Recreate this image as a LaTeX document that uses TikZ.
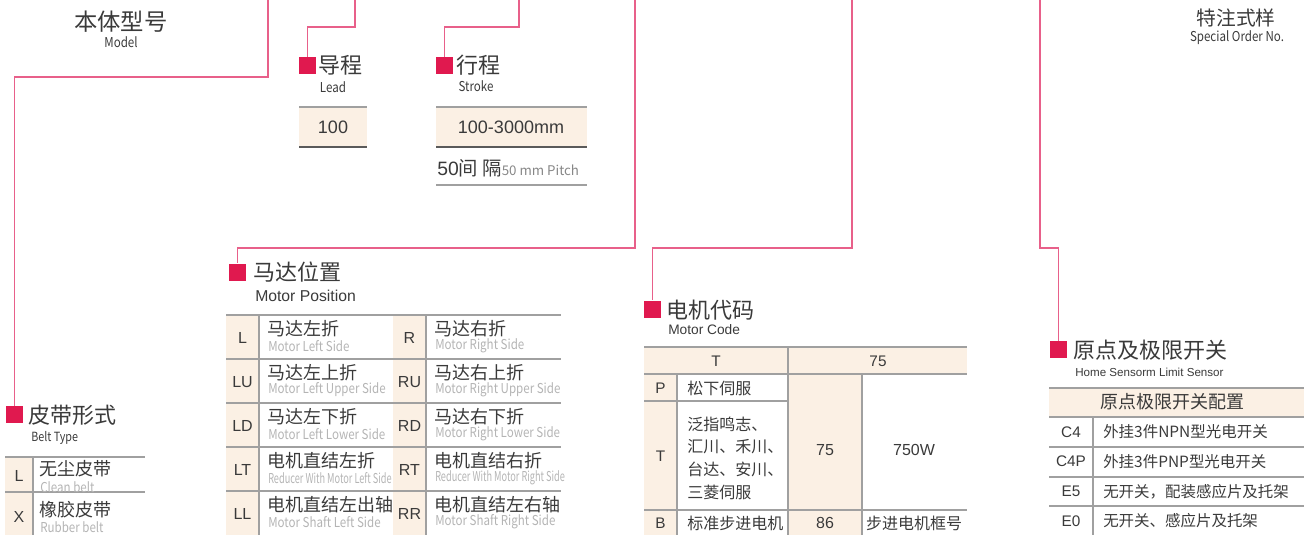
\documentclass[tikz,border=0pt]{standalone}
\usepackage{fontspec}
\setmainfont{Liberation Sans}
\newfontfamily\cjk{Noto Sans CJK SC}
\newfontfamily\cnd[FakeStretch=0.85]{Noto Sans CJK SC}
\newfontfamily\cndx[FakeStretch=0.675]{Noto Sans CJK SC}
\definecolor{linkc}{HTML}{E8608A}
\definecolor{markc}{HTML}{E0194F}
\definecolor{beige}{HTML}{FBF0E4}
\definecolor{gridc}{HTML}{A0A0A0}
\definecolor{darkl}{HTML}{5A5A5A}
\definecolor{textc}{HTML}{3A3A3A}
\definecolor{subc}{HTML}{B4B4B4}
\newcommand\fs[1]{\fontsize{#1}{#1}\selectfont}
\begin{document}
\begin{tikzpicture}[x=0.75pt,y=-0.75pt,
  conn/.style={draw=linkc,line width=1.1pt},
  marker/.style={fill=markc,draw=none,minimum size=12.75pt,inner sep=0pt},
  gridl/.style={draw=gridc,line width=0.8pt},
  darkline/.style={draw=darkl,line width=0.9pt},
  bfill/.style={fill=beige},
  txt/.style={inner sep=0pt,text=textc},
  ttl/.style={txt,anchor=west,font=\cjk\fs{16.5}},
  ttlsub/.style={txt,font=\cnd\fs{10.2}},
  cell/.style={txt,anchor=west,font=\cjk\fs{13.5}},
  sub/.style={inner sep=0pt,anchor=west,text=subc,font=\cnd\fs{10.2}},
  subx/.style={sub,font=\cndx\fs{10.2}},
  code/.style={txt,font=\fs{12}},
  mc/.style={txt,font=\cjk\fs{12}},
  hc/.style={txt,font=\cjk\fs{11.6}}]
\useasboundingbox (0,0) rectangle (1304,535);

% ---------- fills ----------
\fill[bfill] (299,107) rectangle (367,147);
\fill[bfill] (436,107) rectangle (587,147);
\fill[bfill] (5,457) rectangle (33,535);
\fill[bfill] (226,315) rectangle (259,535);
\fill[bfill] (393,315) rectangle (426,535);
\fill[bfill] (644,347) rectangle (967,374);
\fill[bfill] (644,374) rectangle (677,535);
\fill[bfill] (788,374) rectangle (862,535);
\fill[bfill] (1049,388) rectangle (1304,417);

% ---------- table lines ----------
\draw[gridl] (299,107) -- (367,107);
\draw[darkline] (299,147) -- (367,147);
\draw[gridl] (436,107) -- (587,107);
\draw[darkline] (436,147) -- (587,147);
\draw[gridl] (436,185) -- (587,185);
% belt
\draw[gridl] (5,457) -- (145,457);
\draw[gridl] (5,492) -- (145,492);
\draw[gridl] (33,457) -- (33,535);
% motor position
\foreach \y in {315,359,403,447,491} \draw[gridl] (226,\y) -- (561,\y);
\draw[gridl] (259,315) -- (259,535);
\draw[gridl] (426,315) -- (426,535);
% motor code
\draw[gridl] (644,347) -- (967,347);
\draw[gridl] (644,374) -- (967,374);
\draw[gridl] (644,401) -- (788,401);
\draw[gridl] (644,510) -- (967,510);
\draw[gridl] (788,347) -- (788,535);
\draw[gridl] (677,374) -- (677,535);
\draw[gridl] (862,374) -- (862,535);
% home sensor
\foreach \y in {388,417,447,477,506} \draw[gridl] (1049,\y) -- (1304,\y);
\draw[gridl] (1093,417) -- (1093,535);

% ---------- markers ----------
\node[marker] (mLead) at (307.5,65.5) {};
\node[marker] (mStroke) at (444.5,65.5) {};
\node[marker] (mBelt) at (14.5,414.5) {};
\node[marker] (mPos) at (237.5,272) {};
\node[marker] (mCode) at (652.5,309) {};
\node[marker] (mHome) at (1058.5,349.5) {};

% ---------- connectors ----------
\coordinate (tModel) at (268,0);
\coordinate (tLead) at (355,0);
\coordinate (tStroke) at (519,0);
\coordinate (tPos) at (635,0);
\coordinate (tCode) at (852,0);
\coordinate (tHome) at (1040,0);
\draw[conn] (tModel) -- ++(0,77) -| (mBelt.north);
\draw[conn] (tLead) -- ++(0,27) -| (mLead.north);
\draw[conn] (tStroke) -- ++(0,27) -| (mStroke.north);
\draw[conn] (tPos) -- ++(0,248) -| (mPos.north);
\draw[conn] (tCode) -- ++(0,248) -| (mCode.north);
\draw[conn] (tHome) -- ++(0,248) -| (mHome.north);

% ---------- top labels ----------
\node[txt,font=\cjk\fs{17.5}] (model) at (121,22) {本体型号};
\node[ttlsub] (modelE) at (121,42) {Model};
\node[txt,font=\cjk\fs{14.8}] (special) at (1236,18) {特注式样};
\node[ttlsub] (specialE) at (1237,38) {Special Order No.};

% ---------- lead / stroke ----------
\node[ttl] (lead) at (318,65) {导程};
\node[ttlsub] (leadE) at (333,87) {Lead};
\node[code,font=\fs{13.5}] (leadV) at (333,127) {100};
\node[ttl] (stroke) at (456,65) {行程};
\node[ttlsub] (strokeE) at (476,86) {Stroke};
\node[code,font=\fs{13.5}] (strokeV) at (511,127) {100-3000mm};
\node[txt,anchor=west] (pitch) at (437,168) {\fs{14.5}50\cjk 间 隔{\color{subc!75!black}\fs{10}50 mm Pitch}};

% ---------- belt type ----------
\node[ttl] (belt) at (28,415) {皮带形式};
\node[txt,anchor=west,font=\cnd\fs{9.5}] (beltE) at (31,438) {Belt Type};
\node[code] (bL) at (19,476) {L};
\node[cell] (bL1) at (39,469) {无尘皮带};
\node[sub] (bL2) at (40,487) {Clean belt};
\node[code] (bX) at (19,517) {X};
\node[cell] (bX1) at (39,510) {橡胶皮带};
\node[sub] (bX2) at (40,527) {Rubber belt};

% ---------- motor position ----------
\node[ttl] (pos) at (253,272) {马达位置};
\node[txt,anchor=west,font=\fs{11.8}] (posE) at (255,296) {Motor Position};
\foreach \c/\a/\b/\cc/\d/\e/\s [count=\i from 0] in
  {L/马达左折/Motor Left Side/R/马达右折/Motor Right Side/sub,
   LU/马达左上折/Motor Left Upper Side/RU/马达右上折/Motor Right Upper Side/sub,
   LD/马达左下折/Motor Left Lower Side/RD/马达右下折/Motor Right Lower Side/sub,
   LT/电机直结左折/Reducer With Motor Left Side/RT/电机直结右折/Reducer With Motor Right Side/subx,
   LL/电机直结左出轴/Motor Shaft Left Side/RR/电机直结左右轴/Motor Shaft Right Side/sub}{
  \node[code] (pc\i) at (242.5,338+44*\i) {\c};
  \node[cell] (pa\i) at (267,329+44*\i) {\a};
  \node[\s] (pb\i) at (268,346+44*\i) {\b};
  \node[code] (pr\i) at (409.5,338+44*\i) {\cc};
  \node[cell] (pd\i) at (434,329+44*\i) {\d};
  \node[\s] (pe\i) at (435,346+44*\i) {\e};
}

% ---------- motor code ----------
\node[ttl] (code) at (666,310) {电机代码};
\node[txt,anchor=west,font=\fs{10.3}] (codeE) at (668,330) {Motor Code};
\node[code,font=\fs{11.5}] (hT) at (716,361) {T};
\node[code,font=\fs{11.5}] (h75) at (878,361) {75};
\node[code,font=\fs{11.5}] (cP) at (660.5,388) {P};
\node[mc,anchor=west] (cP1) at (687,388) {松下伺服};
\node[code,font=\fs{11.5}] (cT) at (660.5,456) {T};
\node[txt,anchor=west,align=left,font=\cjk\fontsize{12}{17}\selectfont] (cT1) at (687,458) {泛指鸣志、\\汇川、禾川、\\台达、安川、\\三菱伺服};
\node[code,font=\fs{12}] (c75) at (825,450) {75};
\node[code,font=\fs{12}] (c750) at (914,450) {750W};
\node[code,font=\fs{11.5}] (cB) at (660.5,523) {B};
\node[mc,anchor=west] (cB1) at (687,523) {标准步进电机};
\node[code,font=\fs{12}] (c86) at (825,523) {86};
\node[mc] (cB2) at (914,523) {步进电机框号};

% ---------- home sensor ----------
\node[ttl] (home) at (1073,350) {原点及极限开关};
\node[txt,anchor=west,font=\fs{8.7}] (homeE) at (1075,372) {Home Sensorm Limit Sensor};
\node[txt,font=\cjk\fs{13.5}] (hh) at (1172,402) {原点极限开关配置};
\foreach \c/\t [count=\i from 0] in {C4/外挂3件NPN型光电开关,C4P/外挂3件PNP型光电开关,E5/无开关，配装感应片及托架,E0/无开关、感应片及托架}{
  \node[code,font=\fs{11.5}] (hc\i) at (1071,432+29.7*\i) {\c};
  \node[hc,anchor=west] (ht\i) at (1103,432+29.7*\i) {\t};
}
\end{tikzpicture}
\end{document}
